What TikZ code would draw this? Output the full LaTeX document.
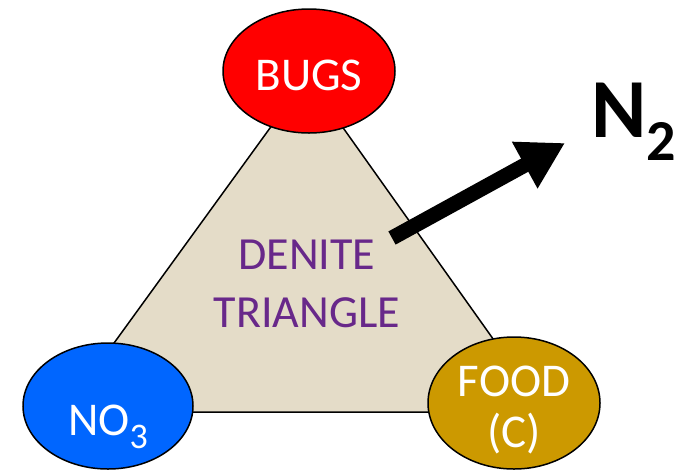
\documentclass[tikz,border=0pt]{standalone}
\usepackage{fontspec}
\setmainfont{Carlito}
\usetikzlibrary{arrows.meta}
\usetikzlibrary{shapes.geometric}
\usepackage{xcolor}
\definecolor{bugred}{HTML}{FF0000}
\definecolor{nitroblue}{HTML}{0066FF}
\definecolor{foodgold}{HTML}{CC9900}
\definecolor{tan}{HTML}{E4DCC8}
\definecolor{denpurple}{HTML}{68288A}

\begin{document}
\begin{tikzpicture}[x=1pt, y=-1pt,
    blob/.style={ellipse, draw=black, line width=1.5pt, inner sep=0pt,
      minimum width=172pt, minimum height=124pt},
    bugs/.style={blob, fill=bugred},
    nitrate/.style={blob, fill=nitroblue, minimum width=170pt, minimum height=126pt},
    food/.style={blob, fill=foodgold, minimum height=132pt},
    intext/.style={text=white, inner sep=0pt, font=\fontsize{47}{51}\selectfont},
    tri/.style={fill=tan, draw=black, line width=1.5pt, line join=round},
    lbl/.style={text=denpurple, align=center, font=\fontsize{46}{58}\selectfont},
    release/.style={line width=15pt,
      -{Triangle[length=46pt, width=50pt]}},
  ]
    \useasboundingbox (0,0) rectangle (679,475);

    % Triangle corners, top then clockwise
    \coordinate (apex) at (307,77);
    \coordinate (right) at (545,412);
    \coordinate (left) at (64,412);
    \draw[tri] (apex) -- (right) -- (left) -- cycle;

    \node[lbl] (name) at (307,284) {DENITE\\TRIANGLE};

    % The three corners, text set as centre labels
    \node[bugs, label={[intext, name=bugtxt, yshift=-4.5pt]center:BUGS}]
      (bug) at (309,71) {};
    \node[nitrate, label={[intext, name=no3txt, yshift=-21pt]center:%
      NO\raisebox{-13pt}{\fontsize{36}{36}\selectfont 3}}]
      (no3) at (108,406) {};
    \node[food, label={[intext, name=fdtxt, yshift=-9pt]center:%
      \begin{tabular}{@{}c@{}}FOOD\\(C)\end{tabular}}]
      (fd) at (514,403) {};

    % Gas leaving
    \node[anchor=base west, inner sep=0pt] (gas) at (591,137)
      {\fontsize{84}{84}\selectfont\bfseries N\raisebox{-23pt}{\fontsize{58}{58}\selectfont 2}};
    \coordinate (tail) at (392,238);
    \coordinate (tip) at (565,143);
    \draw[release] (tail) -- (tip);

\end{tikzpicture}
\end{document}
